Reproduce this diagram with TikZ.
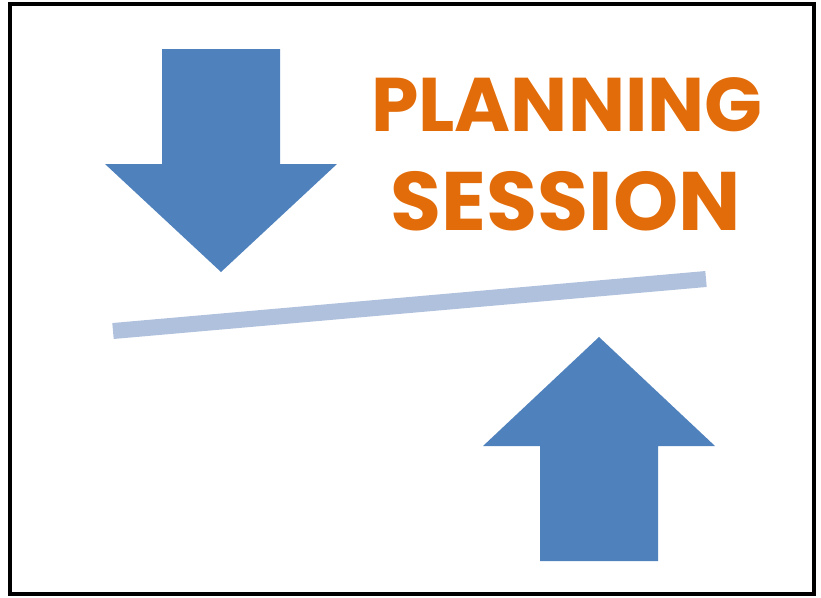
\documentclass[tikz,border=0pt]{standalone}
\usepackage{fontspec}
\newfontfamily\titlefont{Poppins}[UprightFont=*-Bold]
\definecolor{arrowblue}{HTML}{4F81BD}
\definecolor{barblue}{HTML}{B0C1DD}
\definecolor{titleorange}{HTML}{E36C0A}
\tikzset{
  bigarrow/.style={fill=arrowblue},
  title/.style={text=titleorange, anchor=base, inner sep=0pt, font=\titlefont\fontsize{#1}{#1}\selectfont},
}
\begin{document}
\begin{tikzpicture}[x=1pt,y=-1pt]
    \useasboundingbox (0,0) rectangle (821,597);
    \draw[line width=4pt] (10,4) rectangle (814,594);
    % down arrow
    \fill[bigarrow] (162,49) -- (280,49) -- (280,164) -- (337,164) -- (221,272)
        -- (105,164) -- (162,164) -- cycle;
    % up arrow
    \fill[bigarrow] (599,337) -- (715,446) -- (658,446) -- (658,561) -- (540,561)
        -- (540,446) -- (483,446) -- cycle;
    % bar
    \coordinate (barL) at (113,331);
    \coordinate (barR) at (706,279);
    \draw[barblue, line width=16pt] (barL) -- (barR);
    \node[title=76] (plan) at (567,131) {PLANNING};
    \node[title=83] (sess) at (566,230) {SESSION};
\end{tikzpicture}
\end{document}
